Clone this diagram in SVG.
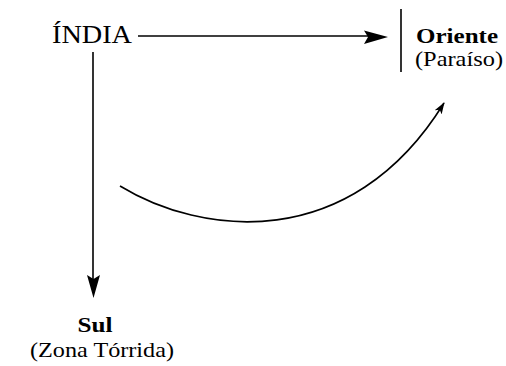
<svg xmlns="http://www.w3.org/2000/svg" width="506" height="366" viewBox="0 0 506 366">
  <style>
    .t { font-family: "Liberation Serif", "Times New Roman", serif; fill: #000; }
    .b { font-weight: bold; }
    .ln { stroke: #000; stroke-width: 1.6; fill: none; }
  </style>
  <defs>
    <marker id="ah" markerWidth="12" markerHeight="8" refX="11" refY="4" orient="auto" markerUnits="userSpaceOnUse">
      <path d="M0,0 L12,4 L0,8 L3,4 Z" fill="#000"/>
    </marker>
  </defs>
  <rect width="506" height="366" fill="#fff"/>
  <g id="india">
    <text class="t" x="52" y="43" font-size="25" textLength="80" lengthAdjust="spacingAndGlyphs">ÍNDIA</text>
  </g>
  <g id="oriente">
    <line x1="401" y1="9" x2="401" y2="72" class="ln" stroke-width="1.4"/>
    <text class="t b" x="416" y="43" font-size="22" textLength="82" lengthAdjust="spacingAndGlyphs">Oriente</text>
    <text class="t" x="415" y="66" font-size="22" textLength="88" lengthAdjust="spacingAndGlyphs">(Paraíso)</text>
  </g>
  <g id="sul">
    <text class="t b" x="95" y="332" font-size="20" text-anchor="middle" textLength="35" lengthAdjust="spacingAndGlyphs">Sul</text>
    <text class="t" x="30" y="357" font-size="21" textLength="144" lengthAdjust="spacingAndGlyphs">(Zona Tórrida)</text>
  </g>
  <g id="connectors">
    <line x1="138" y1="36" x2="368" y2="36" class="ln"/>
    <path d="M364,30.5 L388,37 L364,44 L368,37 Z" fill="#000"/>
    <line x1="93" y1="52" x2="93" y2="280" class="ln"/>
    <path d="M87,275 L93.5,298 L100,275 L93.5,279 Z" fill="#000"/>
    <path d="M120,186 C200,235 350,255 444,103" class="ln" marker-end="url(#ah)"/>
  </g>
</svg>
